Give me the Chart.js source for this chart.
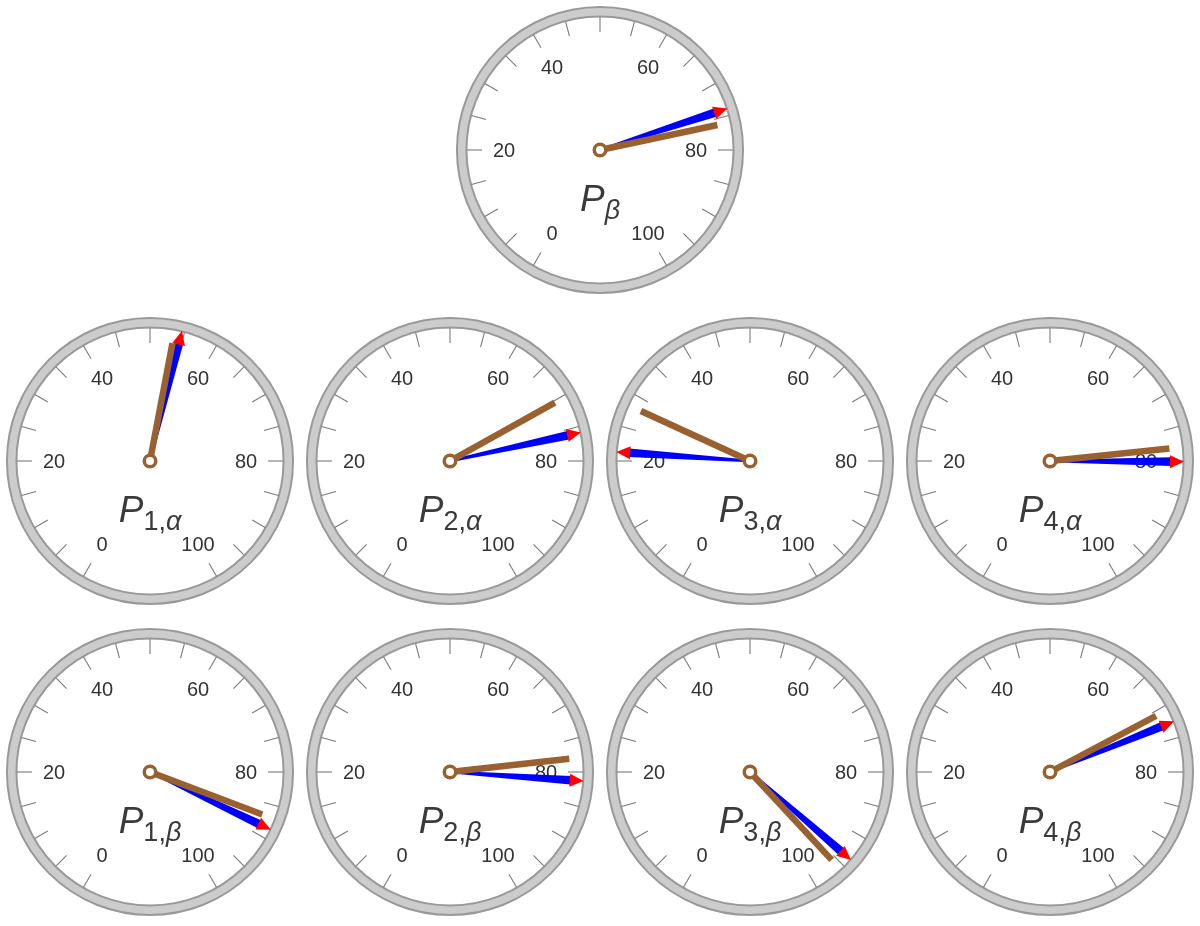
<!DOCTYPE html>
<html>
<head>
<meta charset="utf-8">
<script src="https://cdn.jsdelivr.net/npm/chart.js@4.4.1/dist/chart.umd.min.js"></script>
<style>
  html, body { margin: 0; padding: 0; background: #ffffff; }
  #wrap { position: relative; width: 1200px; height: 926px; overflow: hidden; background: #fff; }
  .g { position: absolute; width: 300px; height: 300px; }
  .g canvas { display: block; }
</style>
</head>
<body>
<div id="wrap"></div>
<script>
// ---- data ----
const gaugeSubIndex = ['', '1', '2', '3', '4', '1', '2', '3', '4'];
const gaugeSubGreek = ['β', 'α', 'α', 'α', 'α', 'β', 'β', 'β', 'β'];
const blueValues  = [74.0, 54.6, 75.9, 21.3, 80.1, 88.5, 81.3, 93.7, 72.6];
const brownValues = [76.0, 53.6, 70.3, 28.2, 78.0, 86.9, 77.9, 95.7, 70.7];
const tickLabels  = [0, 20, 40, 60, 80, 100];
const tickValues  = [0, 5, 10, 15, 20, 25, 30, 35, 40, 45, 50, 55, 60, 65, 70, 75, 80, 85, 90, 95, 100];
const scaleMin = 0, scaleMax = 100, scaleGap = 20; // gap below the dial (60 deg)

// ---- layout ----
const centers = [
  [600, 150],
  [150, 461], [450, 461], [750, 461], [1050, 461],
  [150, 772], [450, 772], [750, 772], [1050, 772]
];

const FONT = '"Liberation Sans", Arial, Helvetica, sans-serif';

const gaugePlugin = {
  id: 'gaugeFace',
  afterDraw(chart) {
    const ctx = chart.ctx;
    const a0 = chart.getDatasetMeta(0).data[0];
    const a1 = chart.getDatasetMeta(1).data[0];
    const cx = a0.x, cy = a0.y;
    const total = (scaleMax - scaleMin) + scaleGap;
    const ang = v => a0.startAngle + ((v - scaleMin) / total) * Math.PI * 2;
    const idx = chart.options.plugins.gaugeFace.index;

    ctx.save();
    // ring
    ctx.beginPath();
    ctx.arc(cx, cy, 138.3, 0, Math.PI * 2);
    ctx.lineWidth = 11.5;
    ctx.strokeStyle = '#999999';
    ctx.stroke();
    ctx.beginPath();
    ctx.arc(cx, cy, 138.3, 0, Math.PI * 2);
    ctx.lineWidth = 7.5;
    ctx.strokeStyle = '#cccccc';
    ctx.stroke();

    // ticks
    ctx.strokeStyle = '#7a7a7a';
    ctx.lineWidth = 1.1;
    tickValues.forEach(v => {
      const a = ang(v);
      ctx.beginPath();
      ctx.moveTo(cx + Math.cos(a) * 133, cy + Math.sin(a) * 133);
      ctx.lineTo(cx + Math.cos(a) * 118, cy + Math.sin(a) * 118);
      ctx.stroke();
    });

    // tick labels
    ctx.fillStyle = '#333333';
    ctx.font = '20px ' + FONT;
    ctx.textAlign = 'center';
    ctx.textBaseline = 'middle';
    tickLabels.forEach(v => {
      const a = ang(v);
      ctx.fillText(String(v), cx + Math.cos(a) * 96, cy + Math.sin(a) * 96 + 1.5);
    });

    // title P_{sub}
    const parts = [
      { t: 'P', font: 'italic 37px ' + FONT, dy: 61 },
    ];
    if (gaugeSubIndex[idx]) parts.push({ t: gaugeSubIndex[idx] + ',', font: '27px ' + FONT, dy: 69 });
    parts.push({ t: gaugeSubGreek[idx], font: 'italic 27px ' + FONT, dy: 69 });
    let w = 0;
    parts.forEach(p => { ctx.font = p.font; p.w = ctx.measureText(p.t).width; w += p.w; });
    let x = cx - w / 2;
    ctx.textAlign = 'left';
    ctx.textBaseline = 'alphabetic';
    ctx.fillStyle = '#3a3a3a';
    parts.forEach(p => { ctx.font = p.font; ctx.fillText(p.t, x, cy + p.dy); x += p.w; });

    // blue tapered needle with red head
    const ab = a0.endAngle;
    const ux = Math.cos(ab), uy = Math.sin(ab);
    const nx = -uy, ny = ux;
    const rBase = 121, rTip = 134;
    ctx.fillStyle = '#0000ff';
    ctx.beginPath();
    ctx.moveTo(cx + nx * 1.2, cy + ny * 1.2);
    ctx.lineTo(cx + ux * rBase + nx * 4.3, cy + uy * rBase + ny * 4.3);
    ctx.lineTo(cx + ux * rBase - nx * 4.3, cy + uy * rBase - ny * 4.3);
    ctx.lineTo(cx - nx * 1.2, cy - ny * 1.2);
    ctx.closePath();
    ctx.fill();
    ctx.fillStyle = '#ff0000';
    ctx.beginPath();
    ctx.moveTo(cx + ux * rTip, cy + uy * rTip);
    ctx.lineTo(cx + ux * (rBase - 1) + nx * 6.5, cy + uy * (rBase - 1) + ny * 6.5);
    ctx.lineTo(cx + ux * (rBase - 1) - nx * 6.5, cy + uy * (rBase - 1) - ny * 6.5);
    ctx.closePath();
    ctx.fill();

    // brown needle
    const ar = a1.endAngle;
    ctx.strokeStyle = '#98612f';
    ctx.lineWidth = 6.5;
    ctx.lineCap = 'butt';
    ctx.beginPath();
    ctx.moveTo(cx, cy);
    ctx.lineTo(cx + Math.cos(ar) * 120, cy + Math.sin(ar) * 120);
    ctx.stroke();

    // hub
    ctx.fillStyle = '#98612f';
    ctx.beginPath();
    ctx.arc(cx, cy, 7.5, 0, Math.PI * 2);
    ctx.fill();
    ctx.fillStyle = '#ffffff';
    ctx.beginPath();
    ctx.arc(cx, cy, 4, 0, Math.PI * 2);
    ctx.fill();
    ctx.restore();
  }
};

const wrap = document.getElementById('wrap');
centers.forEach((c, i) => {
  const div = document.createElement('div');
  div.className = 'g';
  div.style.left = (c[0] - 150) + 'px';
  div.style.top = (c[1] - 150) + 'px';
  const cv = document.createElement('canvas');
  cv.width = 300; cv.height = 300;
  div.appendChild(cv);
  wrap.appendChild(div);
  new Chart(cv, {
    type: 'doughnut',
    data: {
      labels: ['value', 'rest', 'gap'],
      datasets: [
        { label: 'blue', data: [blueValues[i] - scaleMin, scaleMax - blueValues[i], scaleGap],
          backgroundColor: 'rgba(0,0,0,0)', borderWidth: 0 },
        { label: 'brown', data: [brownValues[i] - scaleMin, scaleMax - brownValues[i], scaleGap],
          backgroundColor: 'rgba(0,0,0,0)', borderWidth: 0 }
      ]
    },
    options: {
      responsive: false,
      animation: false,
      events: [],
      rotation: -150,
      circumference: 360,
      cutout: '0%',
      layout: { padding: 0 },
      plugins: {
        legend: { display: false },
        tooltip: { enabled: false },
        gaugeFace: { index: i }
      }
    },
    plugins: [gaugePlugin]
  });
});
</script>
</body>
</html>
